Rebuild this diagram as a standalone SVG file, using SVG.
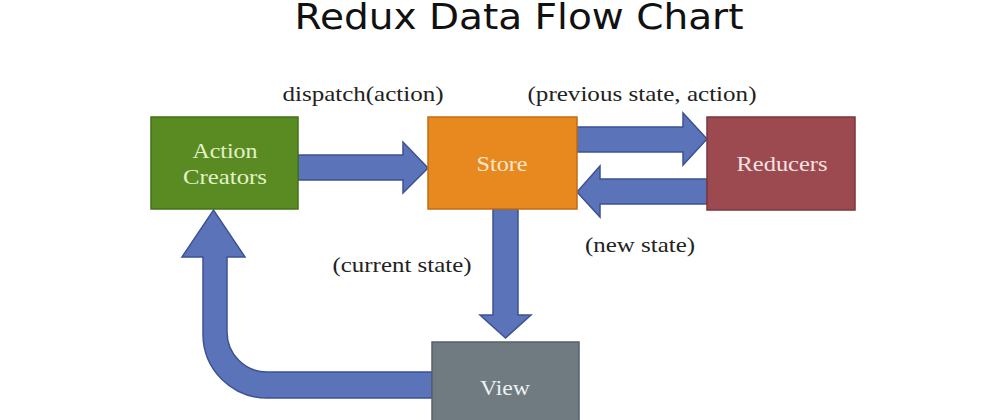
<svg xmlns="http://www.w3.org/2000/svg" width="1000" height="420" viewBox="0 0 1000 420">
<style>
.box{stroke-width:1.5}
.lbl{font-family:"Liberation Serif","Times New Roman",serif;font-size:21px;fill:#222;text-anchor:middle}
.nt{font-family:"Liberation Serif","Times New Roman",serif;font-size:21px;text-anchor:middle}
.arr{fill:#5b73b8;stroke:#3d5294;stroke-width:1.5;stroke-linejoin:miter}
</style>
<rect width="1000" height="420" fill="#ffffff"/>
<text x="519" y="29" font-family="DejaVu Sans, sans-serif" font-size="36" text-anchor="middle" fill="#111" textLength="449" lengthAdjust="spacingAndGlyphs">Redux Data Flow Chart</text>
<g id="connectors">
<path class="arr" d="M298,155 H403 V142 L428,168 L403,193 V180 H298 Z"/>
<path class="arr" d="M577,127 H683 V113 L707,139 L683,165 V152 H577 Z"/>
<path class="arr" d="M707,179 H600 V166 L577,192 L600,217 V204 H707 Z"/>
<path class="arr" d="M493,209 V315 H480 L505.5,338 L531,315 H518 V209 Z"/>
<path class="arr" d="M432,372 H267 A40,40 0 0 1 227,332 V257 H245 L213.5,210 L182,257 H203 V334 A64,64 0 0 0 267,398 H432 Z"/>
<text class="lbl" x="363" y="101" textLength="161" lengthAdjust="spacingAndGlyphs">dispatch(action)</text>
<text class="lbl" x="642" y="101" textLength="229" lengthAdjust="spacingAndGlyphs">(previous state, action)</text>
<text class="lbl" x="640" y="252" textLength="110" lengthAdjust="spacingAndGlyphs">(new state)</text>
<text class="lbl" x="402" y="272" textLength="139" lengthAdjust="spacingAndGlyphs">(current state)</text>
</g>
<g id="action-creators">
<rect class="box" x="151" y="117" width="147" height="92" fill="#5a8a22" stroke="#46701a"/>
<text class="nt" x="225" y="158" fill="#e2f2c8" textLength="65" lengthAdjust="spacingAndGlyphs">Action</text>
<text class="nt" x="225" y="184" fill="#e2f2c8" textLength="84" lengthAdjust="spacingAndGlyphs">Creators</text>
</g>
<g id="store">
<rect class="box" x="428" y="117" width="149" height="92" fill="#e8891f" stroke="#c06d14"/>
<text class="nt" x="502" y="171" fill="#fbe6cc" textLength="51" lengthAdjust="spacingAndGlyphs">Store</text>
</g>
<g id="reducers">
<rect class="box" x="707" y="117" width="148" height="93" fill="#9c4a50" stroke="#7c363c"/>
<text class="nt" x="782" y="171" fill="#f5e2e2" textLength="91" lengthAdjust="spacingAndGlyphs">Reducers</text>
</g>
<g id="view">
<rect class="box" x="432" y="342" width="147" height="90" fill="#6f7b80" stroke="#56626a"/>
<text class="nt" x="505" y="395" fill="#eef1f2" textLength="50" lengthAdjust="spacingAndGlyphs">View</text>
</g>
</svg>
